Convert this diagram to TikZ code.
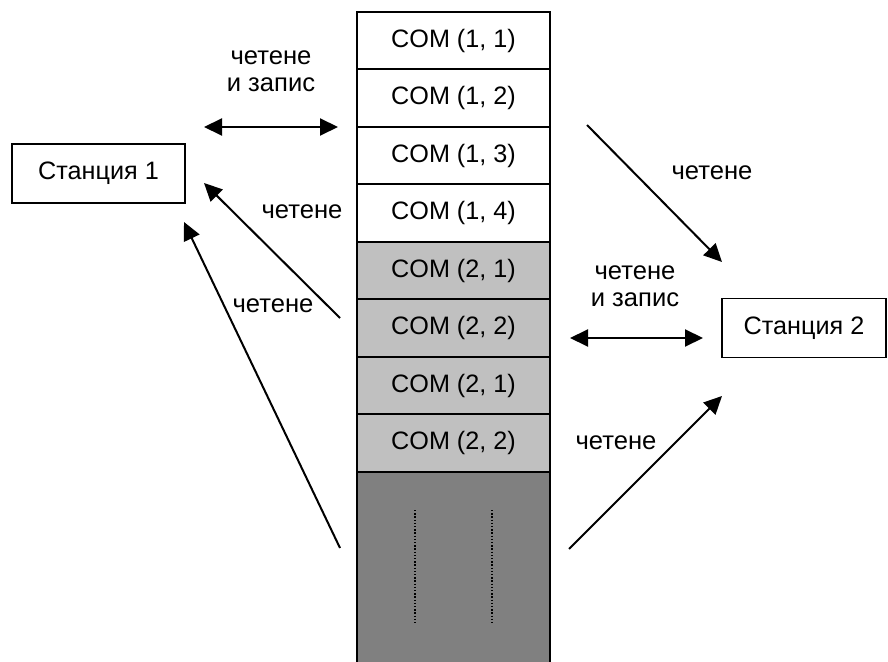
\documentclass[tikz,border=0pt]{standalone}
\usepackage{fontspec}
\setmainfont{Liberation Sans}
\usepackage{xcolor}
\usetikzlibrary{arrows.meta,positioning}

\definecolor{slotgray}{HTML}{C0C0C0}
\definecolor{slotdark}{HTML}{808080}

\begin{document}
\begin{tikzpicture}[x=0.5pt,y=-0.5pt,
  node distance=0pt,
  slot/.style={draw,line width=0.9pt,outer sep=0pt,inner sep=0pt,minimum width=96.5pt,minimum height=28.75pt,fill=white,font=\fontsize{12.6}{15}\selectfont},
  slotg/.style={slot,fill=slotgray},
  slotd/.style={slot,fill=slotdark,minimum height=100pt},
  station/.style={draw,line width=0.9pt,inner sep=0pt,minimum height=29.5pt,font=\fontsize{12.6}{15}\selectfont},
  lbl/.style={align=center,inner sep=0pt,font=\fontsize{12.8}{13.5}\selectfont},
  arrow/.style={-{Triangle[length=9pt,width=8.5pt]},line width=1pt},
  darrow/.style={{Triangle[length=9pt,width=8.5pt]}-{Triangle[length=9pt,width=8.5pt]},line width=1pt}
]
\clip (0,0) rectangle (888,662);
\useasboundingbox (0,0) rectangle (888,662);

% memory column
\node[slot] (c11) at (453.5,40.5) {COM (1, 1)};
\node[slot,below=of c11] (c12) {COM (1, 2)};
\node[slot,below=of c12] (c13) {COM (1, 3)};
\node[slot,below=of c13] (c14) {COM (1, 4)};
\node[slotg,below=of c14] (c21) {COM (2, 1)};
\node[slotg,below=of c21] (c22) {COM (2, 2)};
\node[slotg,below=of c22] (c21b) {COM (2, 1)};
\node[slotg,below=of c21b] (c22b) {COM (2, 2)};
\node[slotd,below=of c22b] (rest) {};

% continuation marks
\coordinate (d1a) at (415,510);
\coordinate (d1b) at (415,623);
\coordinate (d2a) at (492,510);
\coordinate (d2b) at (492,623);
\draw[dash pattern=on 0.7pt off 0.9pt,line width=0.7pt] (d1a) -- (d1b);
\draw[dash pattern=on 0.7pt off 0.9pt,line width=0.7pt] (d2a) -- (d2b);

% stations
\node[station,minimum width=86.5pt] (st1) at (98.5,173.5) {Станция 1};
\node[station,minimum width=82pt] (st2) at (804,328) {Станция 2};

% arrow ends
\coordinate (rwL1) at (204,127);
\coordinate (rwL2) at (338,127);
\coordinate (rdA1) at (340,318);
\coordinate (rdA2) at (204,183);
\coordinate (rdB1) at (340,548);
\coordinate (rdB2) at (184,222);
\coordinate (rdC1) at (587,125);
\coordinate (rdC2) at (722,262);
\coordinate (rwR1) at (570,338);
\coordinate (rwR2) at (703,338);
\coordinate (rdD1) at (569,549);
\coordinate (rdD2) at (722,396);

\draw[darrow] (rwL1) -- (rwL2);
\draw[arrow] (rdA1) -- (rdA2);
\draw[arrow] (rdB1) -- (rdB2);
\draw[arrow] (rdC1) -- (rdC2);
\draw[darrow] (rwR1) -- (rwR2);
\draw[arrow] (rdD1) -- (rdD2);

% labels
\node[lbl] (lrwL) at (271,71) {четене\\и запис};
\node[lbl] (lrdA) at (302,212) {четене};
\node[lbl] (lrdB) at (273,306) {четене};
\node[lbl] (lrdC) at (712,173) {четене};
\node[lbl] (lrwR) at (635,286) {четене\\и запис};
\node[lbl] (lrdD) at (616,443) {четене};
\end{tikzpicture}
\end{document}
